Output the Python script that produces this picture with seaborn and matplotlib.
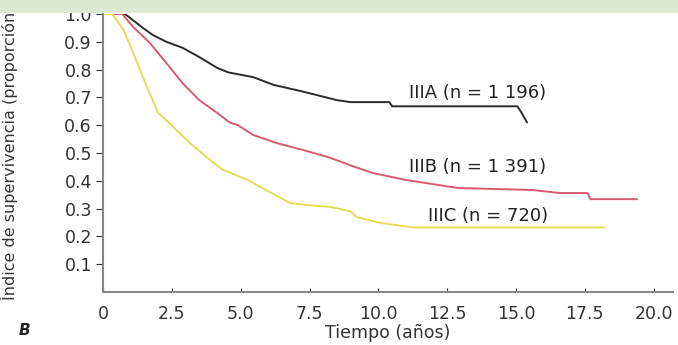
import pandas as pd
import numpy as np
import matplotlib.pyplot as plt
import seaborn as sns
from matplotlib.patches import Rectangle

# Valores (tiempo en anos, supervivencia en proporcion)
t_iiia = [0, 0.8, 1.45, 1.8, 2.3, 2.9, 3.5, 4.15, 4.55, 5.45, 6.2, 7.3, 8.5, 9.0, 10.4, 10.5, 15.05, 15.2, 15.4]
s_iiia = [1.0, 1.0, 0.95, 0.925, 0.90, 0.878, 0.845, 0.806, 0.79, 0.773, 0.745, 0.72, 0.69, 0.683, 0.683, 0.668, 0.668, 0.645, 0.61]

t_iiib = [0, 0.7, 1.1, 1.7, 2.3, 2.9, 3.5, 4.15, 4.6, 4.9, 5.45, 6.3, 7.3, 8.15, 8.6, 9.0, 9.8, 11.0, 12.9, 15.6, 16.6, 17.6, 17.7, 19.4]
s_iiib = [1.0, 1.0, 0.953, 0.896, 0.824, 0.75, 0.69, 0.644, 0.61, 0.60, 0.565, 0.536, 0.51, 0.486, 0.47, 0.455, 0.428, 0.403, 0.374, 0.367, 0.356, 0.356, 0.334, 0.334]

t_iiic = [0, 0.33, 0.73, 1.1, 1.45, 1.8, 2.0, 2.55, 3.15, 3.8, 4.35, 5.25, 6.05, 6.8, 7.4, 8.25, 9.0, 9.2, 10.1, 11.3, 18.2]
s_iiic = [1.0, 1.0, 0.946, 0.86, 0.773, 0.69, 0.645, 0.594, 0.536, 0.482, 0.44, 0.403, 0.36, 0.32, 0.313, 0.306, 0.29, 0.27, 0.248, 0.232, 0.232]

etiquetas = ["IIIA (n = 1 196)", "IIIB (n = 1 391)", "IIIC (n = 720)"]
x_ticks = [0, 2.5, 5.0, 7.5, 10.0, 12.5, 15.0, 17.5, 20.0]
x_labels = ["0", "2.5", "5.0", "7.5", "10.0", "12.5", "15.0", "17.5", "20.0"]
y_ticks = [0.1, 0.2, 0.3, 0.4, 0.5, 0.6, 0.7, 0.8, 0.9, 1.0]

sns.set_style("ticks")
plt.rcParams['font.family'] = ['DejaVu Sans']

fig = plt.figure(figsize=(6.78, 3.45), dpi=100)
ax = fig.add_axes([0.1519, 0.1536, 0.8407, 0.8058])

curvas = [(t_iiia, s_iiia, "#2b2b2b"), (t_iiib, s_iiib, "#d65a70"), (t_iiic, s_iiic, "#e3dc5a")]
for t, s, color in curvas:
    df = pd.DataFrame({"t": t, "s": s})
    sns.lineplot(data=df, x="t", y="s", color=color, linewidth=1.4, ax=ax,
                 estimator=None, sort=False)

ax.text(13.6, 0.716, etiquetas[0], ha="center", va="center", fontsize=13, color="#222222")
ax.text(13.6, 0.45, etiquetas[1], ha="center", va="center", fontsize=13, color="#222222")
ax.text(14.0, 0.272, etiquetas[2], ha="center", va="center", fontsize=13, color="#222222")

ax.set_xlim(0, 20.7)
ax.set_ylim(0, 1.0)
ax.set_xticks(x_ticks)
ax.set_xticklabels(x_labels)
ax.set_yticks(y_ticks)
ax.tick_params(axis="x", direction="in", length=3, pad=9, labelsize=12.5, colors="#333333")
ax.tick_params(axis="y", direction="out", length=5, pad=3, labelsize=12.5, colors="#333333")
for side in ["top", "right"]:
    ax.spines[side].set_visible(False)
for side in ["left", "bottom"]:
    ax.spines[side].set_color("#888888")
    ax.spines[side].set_linewidth(1.5)

ax.set_xlabel("Tiempo (años)", fontsize=12.5, color="#333333", labelpad=1)
ax.set_ylabel("Índice de supervivencia (proporción)", fontsize=11.5, color="#333333")
ax.yaxis.set_label_coords(-0.149, 0.50)
fig.text(0.027, 0.03, "B", fontsize=11, fontweight="bold", fontstyle="italic", color="#222222")

# franja verde de la parte superior
fig.patches.append(Rectangle((0, 0.962), 1, 0.038, transform=fig.transFigure,
                             facecolor="#dbe9d2", edgecolor="none", zorder=10))

fig.savefig("out.png", dpi=100)
